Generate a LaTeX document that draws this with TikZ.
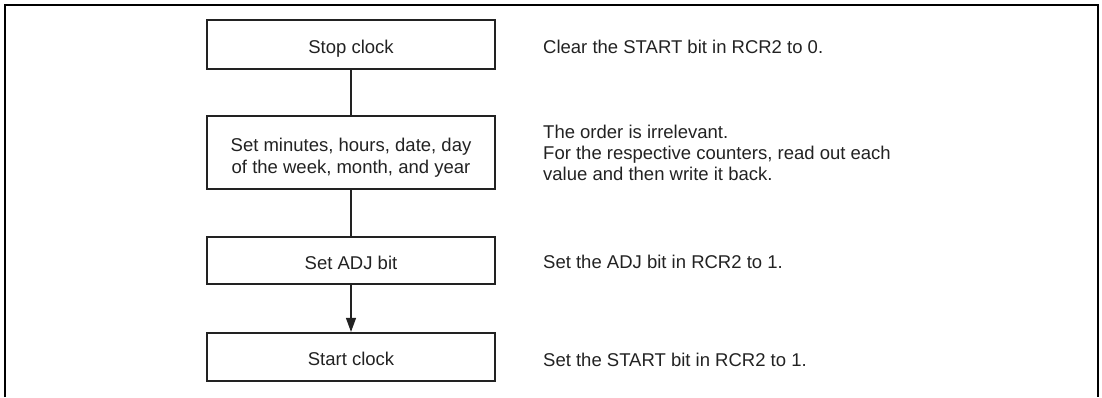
\documentclass[tikz,border=0pt]{standalone}
\usepackage{fontspec}
\setmainfont{Liberation Sans}
\usetikzlibrary{arrows.meta}
\definecolor{ink}{HTML}{222222}
\tikzset{
  stepbox/.style={draw=ink, line width=2.2bp, minimum width=288bp, inner sep=0pt,
    text=ink, font=\fontsize{18.5bp}{21.5bp}\selectfont, align=center,
    text height=17bp, text depth=0bp},
  note/.style={inner sep=0pt, text=ink, font=\fontsize{18.5bp}{21bp}\selectfont,
    align=left, anchor=base west},
  link/.style={draw=ink, line width=1.2bp},
  frame/.style={draw=black, line width=2.6bp}
}
\begin{document}
\begin{tikzpicture}[x=1bp,y=-1bp]
\useasboundingbox (0,0) rectangle (1102,397);
\draw[frame] (5,397) -- (5,5) -- (1098,5) -- (1098,397);
\node[stepbox, minimum height=49bp] (n1) at (351,44.5) {Stop clock};
\node[stepbox, minimum height=73bp, text height=41.6bp] (n2) at (351,152.5) {Set minutes, hours, date, day\\of the week, month, and year};
\node[stepbox, minimum height=47bp] (n3) at (351,260.5) {Set ADJ bit};
\node[stepbox, minimum height=48bp] (n4) at (351,357) {Start clock};
\draw[link] (n1.south) -- (n2.north);
\draw[link] (n2.south) -- (n3.north);
\draw[link, -{Triangle[length=14bp,width=10bp]}] (n3.south) -- (n4.north);
\node[note] (t1) at (543,53.3) {Clear the START bit in RCR2 to 0.};
\node[note] (t2) at (543,180) {The order is irrelevant.\\For the respective counters, read out each\\value and then write it back.};
\node[note] (t3) at (543,268.5) {Set the ADJ bit in RCR2 to 1.};
\node[note] (t4) at (543,366) {Set the START bit in RCR2 to 1.};
\end{tikzpicture}
\end{document}
